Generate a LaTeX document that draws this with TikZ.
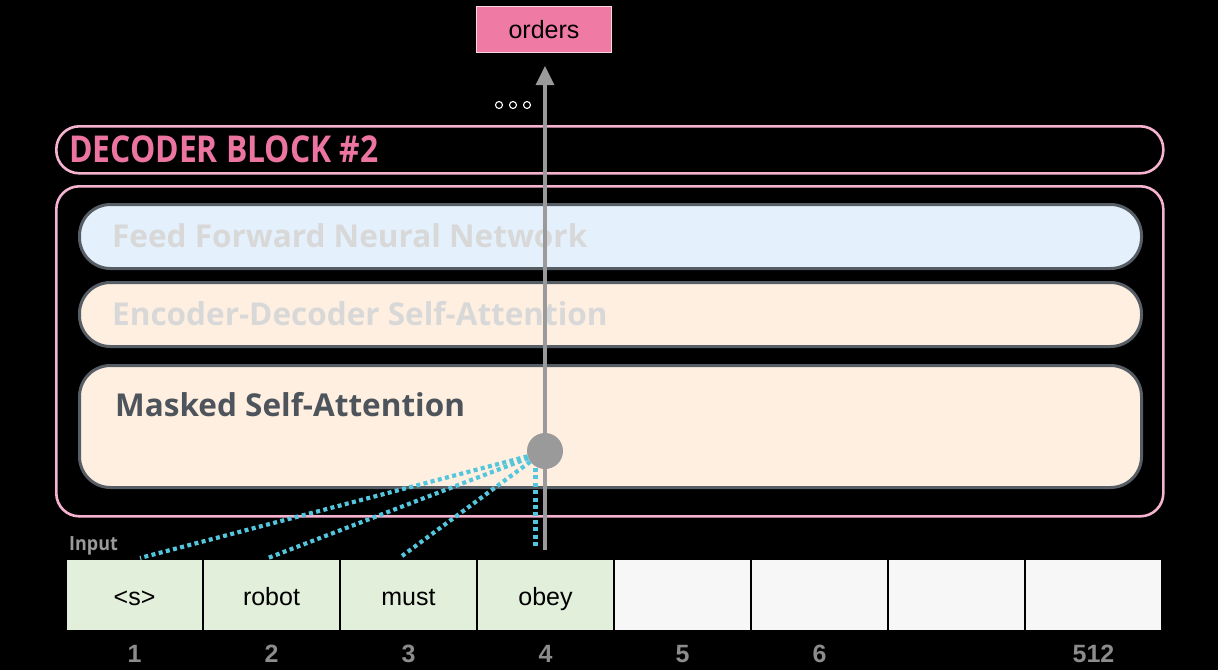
\documentclass[tikz,border=0pt]{standalone}
\usepackage{fontspec}
\setmainfont{Liberation Sans}
\newfontfamily\os{Open Sans}
\newfontfamily\oscond[FakeStretch=0.86]{Open Sans}
\newfontfamily\osinput[FakeStretch=0.92]{Open Sans}
\usetikzlibrary{arrows.meta}
\definecolor{pinkline}{HTML}{F5B3CF}
\definecolor{pinktext}{HTML}{EC74A0}
\definecolor{pinkfill}{HTML}{EF7BA5}
\definecolor{ffblue}{HTML}{E4F1FC}
\definecolor{peach}{HTML}{FEEFE0}
\definecolor{layline}{HTML}{575D64}
\definecolor{lighttext}{HTML}{D8D8D8}
\definecolor{darktext}{HTML}{4E545B}
\definecolor{arrowgray}{HTML}{9A9A9A}
\definecolor{cyandot}{HTML}{53C6DD}
\definecolor{cellgreen}{HTML}{E2EFDA}
\definecolor{celllight}{HTML}{F7F7F7}
\definecolor{numgray}{HTML}{8C8C8C}
\tikzset{
  pinkbox/.style={draw=pinkline, line width=2.6pt, rectangle, inner sep=0pt, anchor=north west},
  layer/.style={draw=layline, line width=3pt, rectangle, rounded corners=31pt, inner sep=0pt, minimum width=1062pt, anchor=north west},
  laytext/.style={anchor=base west, inner sep=0pt, font=\os\bfseries\fontsize{31.5}{34}\selectfont},
  cellbase/.style={draw=black, line width=1.5pt, minimum width=137pt, minimum height=72pt, inner sep=0pt, font=\fontsize{25}{28}\selectfont, text=black},
  cellg/.style={cellbase, fill=cellgreen},
  celll/.style={cellbase, fill=celllight},
  cellword/.style={anchor=base, inner sep=0pt, text=black, font=\fontsize{25}{28}\selectfont},
  numlab/.style={anchor=base, inner sep=0pt, text=numgray, font=\bfseries\fontsize{25}{28}\selectfont},
  dotline/.style={draw=cyandot, line width=4.2pt, dash pattern=on 4pt off 3.4pt},
  smalldot/.style={circle, draw=white, line width=1.1pt, minimum size=7pt, inner sep=0pt},
}
\begin{document}
\begin{tikzpicture}[x=1pt,y=-1pt]
\fill[black] (0,0) rectangle (1218,670);
\useasboundingbox (0,0) rectangle (1218,670);

% output box
\node[draw=white!70!pinkfill, line width=0.8pt, fill=pinkfill, minimum width=135pt, minimum height=46pt, inner sep=0pt, font=\fontsize{25}{28}\selectfont] (orders) at (544,29.5) {orders};

% dots
\node[smalldot] (d1) at (499,105) {};
\node[smalldot] (d2) at (513,105) {};
\node[smalldot] (d3) at (527,105) {};

% decoder block title
\node[pinkbox, rounded corners=23pt, minimum width=1107pt, minimum height=47pt] (title) at (55,125) {};
\node[anchor=base west, inner sep=0pt, text=pinktext, font=\oscond\bfseries\fontsize{37}{40}\selectfont] (titletext) at (69,162) {DECODER BLOCK \#2};

% outer block
\node[pinkbox, rounded corners=23pt, minimum width=1107pt, minimum height=330pt] (block) at (55,185) {};

% layers
\node[layer, fill=ffblue, minimum height=64pt] (ffnn) at (78,203) {};
\node[laytext, text=lighttext] (ffnntext) at (112,247) {Feed Forward Neural Network};
\node[layer, fill=peach, minimum height=64pt] (encdec) at (78,281) {};
\node[laytext, text=lighttext] (encdectext) at (112,325) {Encoder-Decoder Self-Attention};
\node[layer, fill=peach, minimum height=122pt] (masked) at (78,364) {};
\node[laytext, text=darktext] (maskedtext) at (115,416) {Masked Self-Attention};

% input cells
\node[cellg] (c1) at (134.5,595) {};
\node[cellg] (c2) at (271.5,595) {};
\node[cellg] (c3) at (408.5,595) {};
\node[cellg] (c4) at (545.5,595) {};
\node[celll] (c5) at (682.5,595) {};
\node[celll] (c6) at (819.5,595) {};
\node[celll] (c7) at (956.5,595) {};
\node[celll] (c8) at (1093.5,595) {};
\node[cellword] (w1) at (134.5,605) {<s>};
\node[cellword] (w2) at (271.5,605) {robot};
\node[cellword] (w3) at (408.5,605) {must};
\node[cellword] (w4) at (545.5,605) {obey};

\node[anchor=base west, inner sep=0pt, text=arrowgray, font=\osinput\bfseries\fontsize{19.5}{22}\selectfont] (input) at (69,550) {Input};

\node[numlab] (n1) at (134.5,662) {1};
\node[numlab] (n2) at (271.5,662) {2};
\node[numlab] (n3) at (408.5,662) {3};
\node[numlab] (n4) at (545.5,662) {4};
\node[numlab] (n5) at (682.5,662) {5};
\node[numlab] (n6) at (819.5,662) {6};
\node[numlab] (n8) at (1093.5,662) {512};

% main arrow
\coordinate (abot) at (545,550);
\coordinate (atip) at (545,66);
\draw[arrowgray, line width=3.4pt, -{Triangle[length=19pt,width=18pt]}] (abot) -- (atip);

% attention circle
\node[circle, fill=arrowgray, minimum size=36pt, inner sep=0pt] (circ) at (545,451) {};

% dotted attention lines
\coordinate (t1) at (140,558);
\coordinate (t2) at (268,558);
\coordinate (t3) at (402,556);
\coordinate (vtop) at (535.5,468);
\coordinate (vbot) at (535.5,547);
\draw[dotline] (circ.197) -- (t1);
\draw[dotline] (circ.203) -- (t2);
\draw[dotline] (circ.216) -- (t3);
\draw[dotline] (vtop) -- (vbot);
\end{tikzpicture}
\end{document}
